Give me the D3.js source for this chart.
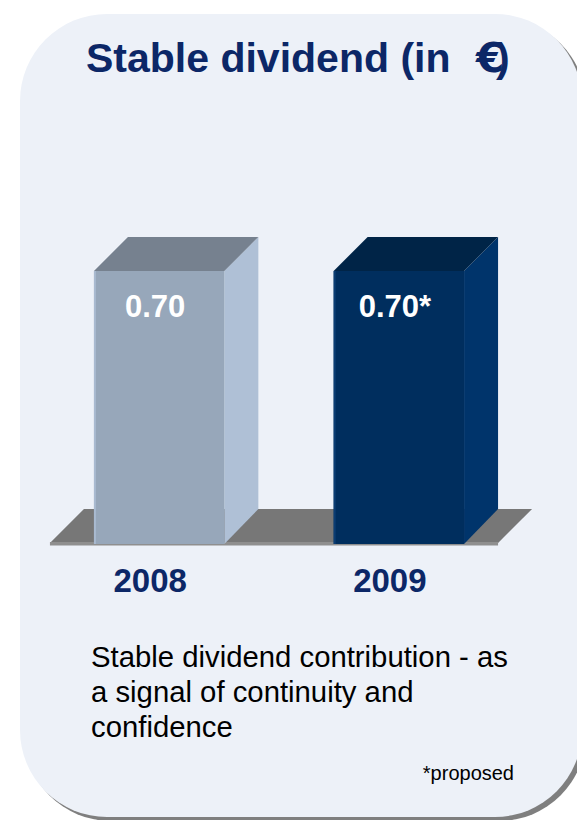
<!DOCTYPE html>
<html>
<head>
<meta charset="utf-8">
<script src="https://cdn.jsdelivr.net/npm/d3@7/dist/d3.min.js"></script>
<style>
  html, body { margin: 0; padding: 0; background: #ffffff; }
  svg { display: block; }
</style>
</head>
<body>
<script>
// Dividend per share, in euro
const years = ["2008", "2009"];
const dividends = [0.70, 0.70];
const valueLabels = ["0.70", "0.70*"];
const titleParts = ["Stable dividend (in ", "€", ")"];
const noteLines = ["Stable dividend contribution - as", "a signal of continuity and", "confidence"];
const footnote = "*proposed";

const W = 577, H = 820;
const svg = d3.select("body").append("svg").attr("width", W).attr("height", H);

// Rounded card with a drop shadow
function cardPath(x0, y0, x1, y1, r) {
  return `M${x0 + r},${y0} H${x1 - r} A${r},${r} 0 0 1 ${x1},${y0 + r} V${y1 - r} A${r},${r} 0 0 1 ${x1 - r},${y1} H${x0 + r} A${r},${r} 0 0 1 ${x0},${y1 - r} V${y0 + r} A${r},${r} 0 0 1 ${x0 + r},${y0} Z`;
}
svg.append("path").attr("d", cardPath(24, 18, 586, 821, 87)).attr("fill", "#7f7f7f");
svg.append("path").attr("d", cardPath(20, 14, 582, 817, 87)).attr("fill", "#edf1f8");

// Title: the euro sign sits in a wider face, the closing bracket tucks into it
const title = svg.append("text")
  .attr("x", 86).attr("y", 72)
  .attr("font-family", "'Liberation Sans', Arial, sans-serif")
  .attr("font-weight", "bold").attr("font-size", 41)
  .attr("fill", "#0c2767");
title.append("tspan").text(titleParts[0]);
title.append("tspan").attr("x", 476).attr("font-family", "'DejaVu Sans', sans-serif").attr("font-size", 41).text(titleParts[1]);
title.append("tspan").attr("x", 496).text(titleParts[2]);

// Scales
const depth = 34;
const baseY = 543;
const x = d3.scaleBand().domain(years).range([46, 512]).paddingInner(0.456).paddingOuter(0.2);
const y = d3.scaleLinear().domain([0, 0.8]).range([baseY, baseY - 272 * 0.8 / 0.7]);

// Floor plate
const floorL = x(years[0]) - 44, floorR = x(years[1]) + x.bandwidth() + 34;
svg.append("path")
  .attr("d", `M${floorL},${baseY} L${floorL + depth},${baseY - depth} L${floorR + depth},${baseY - depth} L${floorR},${baseY} Z`)
  .attr("fill", "#777777");
svg.append("rect").attr("x", floorL).attr("y", baseY - 1).attr("width", floorR - floorL).attr("height", 3.5).attr("fill", "#8f8f8f");

// 3D bars
const palettes = [
  { front: "#97a7ba", side: "#afc0d6", top: "#76818f", edge: "#a9bad0" },
  { front: "#002e5e", side: "#00346b", top: "#002447", edge: "#0b3d73" }
];
const data = years.map((yr, i) => ({ yr, v: dividends[i], label: valueLabels[i], c: palettes[i] }));

const bars = svg.selectAll("g.bar").data(data).join("g").attr("class", "bar");
bars.append("path") // side face
  .attr("d", d => {
    const x1 = x(d.yr) + x.bandwidth(), yt = y(d.v);
    return `M${x1},${yt} L${x1 + depth},${yt - depth} L${x1 + depth},${baseY - depth} L${x1},${baseY + 1} Z`;
  })
  .attr("fill", d => d.c.side);
bars.append("path") // top face
  .attr("d", d => {
    const x0 = x(d.yr), x1 = x0 + x.bandwidth(), yt = y(d.v);
    return `M${x0},${yt} L${x0 + depth},${yt - depth} L${x1 + depth},${yt - depth} L${x1},${yt} Z`;
  })
  .attr("fill", d => d.c.top);
bars.append("rect") // front face
  .attr("x", d => x(d.yr)).attr("y", d => y(d.v))
  .attr("width", x.bandwidth()).attr("height", d => baseY + 1 - y(d.v))
  .attr("fill", d => d.c.front);
bars.append("rect") // light left edge
  .attr("x", d => x(d.yr)).attr("y", d => y(d.v))
  .attr("width", 2).attr("height", d => baseY + 1 - y(d.v))
  .attr("fill", d => d.c.edge);

// Value labels inside the bars
bars.append("text")
  .attr("x", d => x(d.yr) + x.bandwidth() / 2 - 4)
  .attr("y", d => y(d.v) + 46)
  .attr("text-anchor", "middle")
  .attr("font-family", "'Liberation Sans', Arial, sans-serif")
  .attr("font-weight", "bold").attr("font-size", 31)
  .attr("fill", "#ffffff")
  .text(d => d.label);

// Category labels
svg.selectAll("text.year").data(years).join("text").attr("class", "year")
  .attr("x", d => x(d) + x.bandwidth() / 2 - 9)
  .attr("y", 592)
  .attr("text-anchor", "middle")
  .attr("font-family", "'Liberation Sans', Arial, sans-serif")
  .attr("font-weight", "bold").attr("font-size", 33)
  .attr("fill", "#0c2767")
  .text(d => d);

// Commentary
svg.selectAll("text.note").data(noteLines).join("text").attr("class", "note")
  .attr("x", 91).attr("y", (d, i) => 667 + i * 35)
  .attr("font-family", "'Liberation Sans', Arial, sans-serif")
  .attr("font-size", 29.3)
  .attr("fill", "#000000")
  .text(d => d);

svg.append("text")
  .attr("x", 514).attr("y", 780).attr("text-anchor", "end")
  .attr("font-family", "'Liberation Sans', Arial, sans-serif")
  .attr("font-size", 20).attr("fill", "#000000")
  .text(footnote);
</script>
</body>
</html>
